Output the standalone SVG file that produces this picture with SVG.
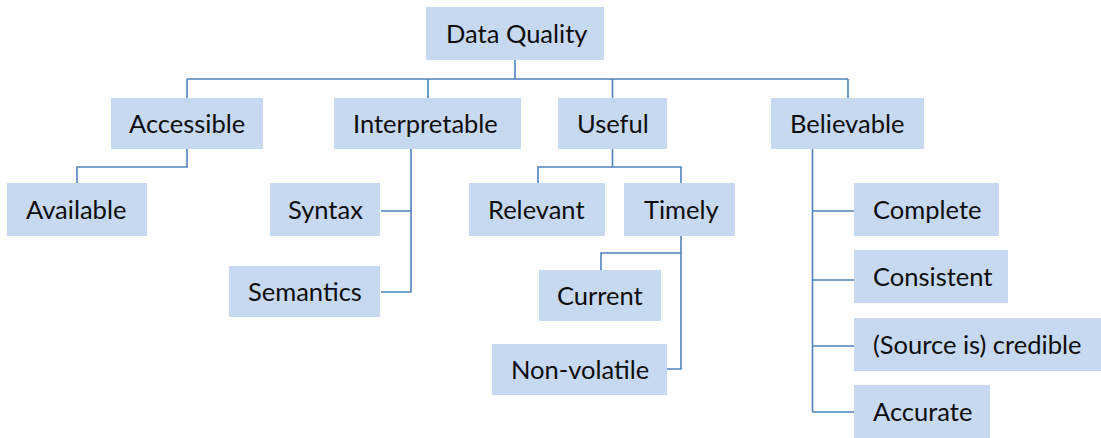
<svg xmlns="http://www.w3.org/2000/svg" width="1101" height="438" viewBox="0 0 1101 438">
<style>
.box{fill:#C6D9F0}
.lbl{font-family:Lato,"Liberation Sans",sans-serif;font-size:25.5px;fill:#0d0d0d}
.con{fill:none;stroke:#4F81BD;stroke-width:1.6}
</style>
<rect width="1101" height="438" fill="#fff"/>
<g id="connectors" class="con">
<path d="M515,60 V79"/>
<path d="M187,79 H848"/>
<path d="M187,79 V98 M428,79 V98 M612.5,79 V98 M848,79 V98"/>
<path d="M187,149 V167 H77 V183"/>
<path d="M411,149 V292 H381 M381,211 H411"/>
<path d="M612.5,149 V167 M538,183 V167 H681 V183"/>
<path d="M681,236 V369 H667 M601,270 V253 H681"/>
<path d="M812.5,149 V412 M812.5,211 H854 M812.5,280 H854 M812.5,346 H854 M812.5,412 H854"/>
</g>
<g id="n-dataquality"><rect class="box" x="426" y="7" width="178" height="53"/><text class="lbl" x="446" y="43">Data Quality</text></g>
<g id="n-accessible"><rect class="box" x="111" y="98" width="152" height="51"/><text class="lbl" x="129" y="133">Accessible</text></g>
<g id="n-interpretable"><rect class="box" x="334" y="98" width="187" height="51"/><text class="lbl" x="353" y="133">Interpretable</text></g>
<g id="n-useful"><rect class="box" x="558" y="98" width="109" height="51"/><text class="lbl" x="577" y="133">Useful</text></g>
<g id="n-believable"><rect class="box" x="771" y="98" width="153" height="51"/><text class="lbl" x="790" y="133">Believable</text></g>
<g id="n-available"><rect class="box" x="7" y="183" width="140" height="53"/><text class="lbl" x="26" y="219">Available</text></g>
<g id="n-syntax"><rect class="box" x="270" y="183" width="110" height="53"/><text class="lbl" x="288" y="219">Syntax</text></g>
<g id="n-relevant"><rect class="box" x="469" y="183" width="136" height="53"/><text class="lbl" x="488" y="219">Relevant</text></g>
<g id="n-timely"><rect class="box" x="624" y="183" width="111" height="53"/><text class="lbl" x="644" y="219">Timely</text></g>
<g id="n-complete"><rect class="box" x="854" y="183" width="145" height="53"/><text class="lbl" x="873" y="219">Complete</text></g>
<g id="n-semantics"><rect class="box" x="229" y="266" width="151" height="51"/><text class="lbl" x="248" y="301">Semantics</text></g>
<g id="n-current"><rect class="box" x="539" y="270" width="122" height="51"/><text class="lbl" x="557" y="305">Current</text></g>
<g id="n-nonvolatile"><rect class="box" x="492" y="344" width="175" height="51"/><text class="lbl" x="511" y="379">Non-volatile</text></g>
<g id="n-consistent"><rect class="box" x="854" y="250" width="154" height="53"/><text class="lbl" x="873" y="286">Consistent</text></g>
<g id="n-credible"><rect class="box" x="854" y="318" width="247" height="53"/><text class="lbl" x="873" y="354">(Source is) credible</text></g>
<g id="n-accurate"><rect class="box" x="854" y="385" width="136" height="53"/><text class="lbl" x="873" y="421">Accurate</text></g>
</svg>
